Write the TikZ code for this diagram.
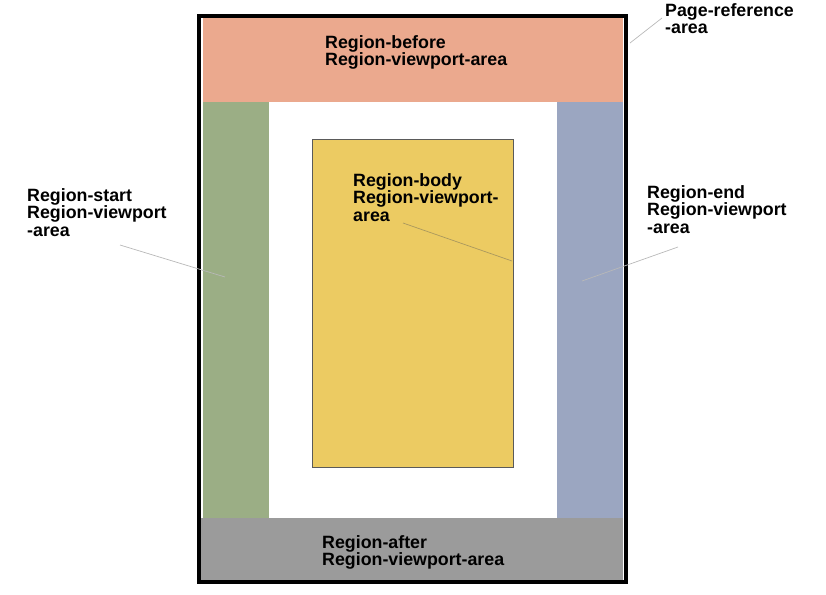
\documentclass[tikz,border=0pt]{standalone}
\usepackage{fontspec}
\setmainfont{Liberation Sans}
\definecolor{cbefore}{HTML}{EBA98E}
\definecolor{cstart}{HTML}{9BAE85}
\definecolor{cend}{HTML}{9BA6C1}
\definecolor{cbody}{HTML}{ECCB62}
\definecolor{cafter}{HTML}{9B9B9B}
\definecolor{cleader}{HTML}{B8B8B8}
\definecolor{cbodyline}{HTML}{5A5A5A}
\begin{document}
\begin{tikzpicture}[x=1pt,y=-1pt,
  lbl/.style={anchor=north west,inner sep=0pt,align=left,
    font=\fontsize{17.8}{17.5}\selectfont\bfseries},
  leader/.style={draw=cleader,line width=0.7pt}]
\useasboundingbox (0,0) rectangle (826,594);
% regions
\fill[cbefore] (203,18.5) rectangle (622.5,102);
\fill[cstart] (203,102) rectangle (268.5,518);
\fill[cend] (557,102) rectangle (622.5,518);
\fill[cafter] (200,518) rectangle (623,580);
\path[fill=cbody,draw=cbodyline,line width=1pt] (312,139) rectangle (513,467);
% frame
\draw[line width=3.2pt] (199,16) rectangle (626,582);
% labels
\node[lbl] (before) at (325,35) {Region-before\\Region-viewport-area};
\node[lbl] (after) at (322,535) {Region-after\\Region-viewport-area};
\node[lbl] (start) at (27,188) {Region-start\\Region-viewport\\-area};
\node[lbl] (end) at (647,185) {Region-end\\Region-viewport\\-area};
\node[lbl] (body) at (353,173) {Region-body\\Region-viewport-\\area};
\node[lbl] (page) at (665,3) {Page-reference\\-area};
% leader lines
\coordinate (pageA) at (662,18);
\coordinate (pageB) at (630,43);
\coordinate (startA) at (120,245);
\coordinate (startB) at (225,277);
\coordinate (endA) at (678,247);
\coordinate (endB) at (582,281);
\coordinate (bodyA) at (403,223);
\coordinate (bodyB) at (512,261);
\draw[leader] (pageA) -- (pageB);
\draw[leader] (startA) -- (startB);
\draw[leader] (endA) -- (endB);
\draw[leader,draw=cbodyline!45!cbody] (bodyA) -- (bodyB);
\end{tikzpicture}
\end{document}
